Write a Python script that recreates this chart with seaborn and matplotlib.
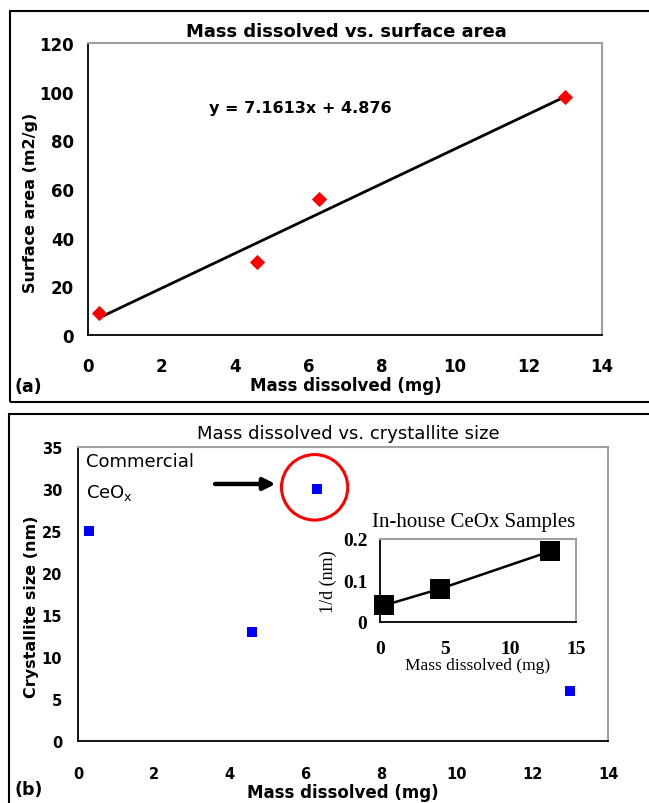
import numpy as np
import pandas as pd
import matplotlib
matplotlib.use("Agg")
import matplotlib.pyplot as plt
from matplotlib.patches import Rectangle, Ellipse
import seaborn as sns

# ---------------- data ----------------
mass_a = [0.3, 4.6, 6.3, 13.0]
surface_area = [9, 30, 56, 98]
fit_slope = 7.1613
fit_intercept = 4.876
fit_label = "y = 7.1613x + 4.876"

mass_b = [0.3, 4.6, 6.3, 13.0]
crystallite = [25, 13, 30, 6]

mass_inset = [0.3, 4.6, 13.0]
inv_d = [0.04, 0.08, 0.17]

xticks_main = [0, 2, 4, 6, 8, 10, 12, 14]
yticks_a = [0, 20, 40, 60, 80, 100, 120]
yticks_b = [0, 5, 10, 15, 20, 25, 30, 35]
xticks_inset = [0, 5, 10, 15]
yticks_inset = [0, 0.1, 0.2]
yticklabels_inset = ["0", "0.1", "0.2"]

# ---------------- setup ----------------
sns.set_style("white")
plt.rcParams['font.family'] = ['DejaVu Sans']
plt.rcParams['text.color'] = 'black'
plt.rcParams['xtick.color'] = 'black'
plt.rcParams['ytick.color'] = 'black'
plt.rcParams['axes.labelcolor'] = 'black'
W, H = 649, 804
fig = plt.figure(figsize=(W / 100, H / 100), dpi=100)
fig.patch.set_facecolor("white")


def px_rect(l, t, r, b):
    return [l / W, (H - b) / H, (r - l) / W, (b - t) / H]


def ftext(x, y, s, **kw):
    kw.setdefault("color", "black")
    fig.text(x / W, (H - y) / H, s, **kw)


GRAY = "#a0a0a0"


def style_axes(ax, lw=1.3):
    for side in ["left", "bottom"]:
        ax.spines[side].set_color("black")
        ax.spines[side].set_linewidth(lw)
    for side in ["top", "right"]:
        ax.spines[side].set_color(GRAY)
        ax.spines[side].set_linewidth(1.5)
    ax.set_facecolor("white")


# panel frames
fig.patches.append(Rectangle((10 / W, (H - 403) / H), 700 / W, 391 / H,
                             transform=fig.transFigure, fill=False,
                             edgecolor="black", linewidth=1.5))
fig.patches.append(Rectangle((9 / W, (H - 830) / H), 700 / W, 415 / H,
                             transform=fig.transFigure, fill=False,
                             edgecolor="black", linewidth=1.5))

# ---------------- panel (a) ----------------
ax1 = fig.add_axes(px_rect(88, 44, 602, 336))
style_axes(ax1)
df_a = pd.DataFrame({"mass": mass_a, "area": surface_area})
xfit = np.array([min(mass_a), max(mass_a)])
df_fit = pd.DataFrame({"mass": xfit, "area": fit_slope * xfit + fit_intercept})
sns.lineplot(data=df_fit, x="mass", y="area", ax=ax1, color="black", linewidth=2)
sns.scatterplot(data=df_a, x="mass", y="area", ax=ax1, marker="D", s=60,
                color="#ff0000", edgecolor="#ff0000", linewidth=0, zorder=3)
ax1.set_xlim(0, 14)
ax1.set_ylim(0, 120)
ax1.set_xticks(xticks_main)
ax1.set_yticks(yticks_a)
ax1.set_xlabel("")
ax1.set_ylabel("")
ax1.tick_params(axis="both", direction="out", length=4, width=1.2, color="black",
                labelcolor="black", labelsize=12)
ax1.tick_params(axis="x", pad=12)
ax1.tick_params(axis="y", pad=6)
for lab in ax1.get_xticklabels() + ax1.get_yticklabels():
    lab.set_fontweight("bold")

ftext(346, 32, "Mass dissolved vs. surface area", ha="center", va="center",
      fontsize=13, fontweight="bold")
ftext(346, 386, "Mass dissolved (mg)", ha="center", va="center",
      fontsize=12, fontweight="bold")
ftext(31, 203, "Surface area (m2/g)", ha="center", va="center", rotation=90,
      fontsize=11.5, fontweight="bold")
ftext(209, 109, fit_label, ha="left", va="center", fontsize=11.5,
      fontweight="bold")
ftext(14, 387, "(a)", ha="left", va="center", fontsize=12.5, fontweight="bold")

# ---------------- panel (b) ----------------
ax2 = fig.add_axes(px_rect(78, 448, 608, 742))
style_axes(ax2)
df_b = pd.DataFrame({"mass": mass_b, "size": crystallite})
sns.scatterplot(data=df_b, x="mass", y="size", ax=ax2, marker="s", s=55,
                color="#0000ff", edgecolor="#0000ff", linewidth=0, zorder=3)
ax2.set_xlim(0, 14)
ax2.set_ylim(0, 35)
ax2.set_xticks(xticks_main)
ax2.set_yticks(yticks_b)
ax2.set_xlabel("")
ax2.set_ylabel("")
ax2.tick_params(axis="x", direction="out", length=4, width=1.2, color="black",
                labelcolor="black", labelsize=10.5, pad=14)
ax2.tick_params(axis="y", direction="inout", length=7, width=1.2, color="black",
                labelcolor="black", labelsize=10.5, pad=8)
for lab in ax2.get_xticklabels() + ax2.get_yticklabels():
    lab.set_fontweight("bold")

# circle and arrow highlighting the commercial sample
ax2.add_patch(Ellipse((6.25, 30.2), 1.75, 7.8, fill=False, edgecolor="#ff0000",
                      linewidth=2.2, zorder=4))
ax2.annotate("", xy=(5.22, 30.6), xytext=(3.62, 30.6),
             arrowprops=dict(arrowstyle="-|>,head_length=0.7,head_width=0.35",
                             color="black", linewidth=3.2, shrinkA=0, shrinkB=0))

ftext(348, 434, "Mass dissolved vs. crystallite size", ha="center", va="center",
      fontsize=13)
ftext(343, 793, "Mass dissolved (mg)", ha="center", va="center",
      fontsize=12, fontweight="bold")
ftext(32, 607, "Crystallite size (nm)", ha="center", va="center", rotation=90,
      fontsize=11.5, fontweight="bold")
ftext(86, 462, "Commercial", ha="left", va="center", fontsize=13)
ftext(86, 493, "CeO$_\\mathrm{x}$", ha="left", va="center", fontsize=13)
ftext(14, 790, "(b)", ha="left", va="center", fontsize=12.5, fontweight="bold")

# ---------------- inset ----------------
ax3 = fig.add_axes(px_rect(380, 540, 576, 623))
style_axes(ax3, lw=1.3)
df_in = pd.DataFrame({"mass": mass_inset, "invd": inv_d})
sns.lineplot(data=df_in, x="mass", y="invd", ax=ax3, color="black", linewidth=1.8)
sns.scatterplot(data=df_in, x="mass", y="invd", ax=ax3, marker="s", s=200,
                color="black", edgecolor="black", linewidth=0, zorder=3,
                clip_on=False)
ax3.set_xlim(0, 15)
ax3.set_ylim(0, 0.2)
ax3.set_xticks(xticks_inset)
ax3.set_yticks(yticks_inset)
ax3.set_yticklabels(yticklabels_inset)
ax3.set_xlabel("")
ax3.set_ylabel("")
ax3.tick_params(axis="both", direction="out", length=4, width=1.2, color="black",
                labelcolor="black", labelsize=14)
ax3.tick_params(axis="x", pad=9)
ax3.tick_params(axis="y", pad=5)
for lab in ax3.get_xticklabels() + ax3.get_yticklabels():
    lab.set_fontfamily("Liberation Serif")
    lab.set_fontweight("bold")

ftext(474, 522, "In-house CeOx Samples", ha="center", va="center",
      fontsize=15, family="Liberation Serif")
ftext(478, 666, "Mass dissolved (mg)", ha="center", va="center",
      fontsize=12.5, family="Liberation Serif")
ftext(328, 582, "1/d (nm)", ha="center", va="center", rotation=90,
      fontsize=13, family="Liberation Serif")

fig.savefig("out.png", dpi=100, facecolor="white")
